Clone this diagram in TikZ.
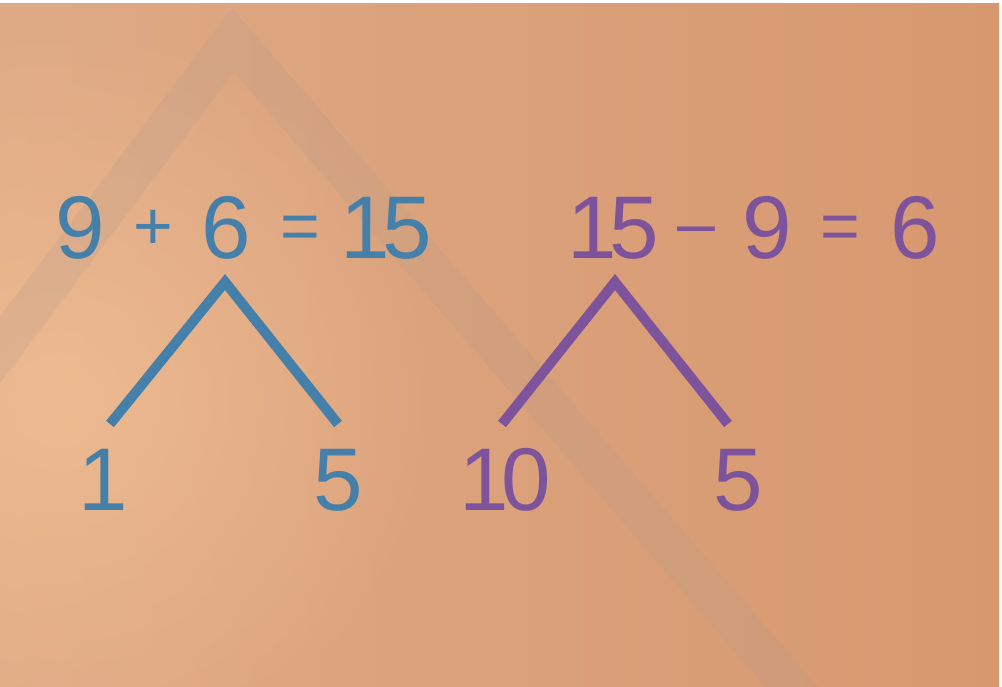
\documentclass[tikz,border=0pt]{standalone}
\usepackage{fontspec}
\setmainfont{Liberation Sans}
\usetikzlibrary{fadings}
\definecolor{numblue}{HTML}{4480AA}
\definecolor{numpurple}{HTML}{7D549B}
\definecolor{bgleft}{HTML}{DEAA86}
\definecolor{bgmid}{HTML}{EE9C74}
\definecolor{bgright}{HTML}{D7986F}
\definecolor{bgglow}{HTML}{EFBC92}
\definecolor{bandgrey}{HTML}{B49A8C}
\tikzfading[name=softglow, inner color=transparent!0, outer color=transparent!100]
\tikzset{
  num/.style={anchor=base, inner sep=0pt, font=\fontsize{44.5}{48}\selectfont},
  op/.style={anchor=base, inner sep=0pt, font=\fontsize{34}{36}\selectfont},
  branch/.style={line width=5pt, line join=miter}
}
\newcommand{\tight}{\kern-0.08em}

\begin{document}
\begin{tikzpicture}[x=0.5pt, y=-0.5pt]
\useasboundingbox (0,0) rectangle (1002,686);
% background
\fill[white] (0,0) rectangle (1002,686);
\begin{scope}
\clip (0,3) rectangle (999,686);
\shade[left color=bgleft, middle color=bgmid, right color=bgright] (0,3) rectangle (999,686);
\fill[bgglow, fill opacity=0.9, path fading=softglow] (60,400) circle (190pt);
\draw[bandgrey, opacity=0.22, line width=20pt, line join=miter] (-30,390) -- (233,40) -- (820,720);
\end{scope}

% 9 + 6 = 15
\node[num, numblue] (nine) at (80,258) {9};
\node[op, numblue] (plus) at (153,249) {+};
\node[num, numblue] (six) at (226,258) {6};
\node[op, numblue] (eqa) at (300,249) {=};
\node[num, numblue] (fifteen) at (386,258) {1\tight5};
% 15 - 9 = 6
\node[num, numpurple] (fifteenb) at (613,258) {1\tight5};
\node[op, numpurple] (minus) at (696,246) {--};
\node[num, numpurple] (nineb) at (767,258) {9};
\node[op, numpurple] (eqb) at (840,249) {=};
\node[num, numpurple] (sixb) at (915,258) {6};

% first tree
\coordinate (topa) at (225,282);
\coordinate (enda1) at (110,424);
\coordinate (enda2) at (338,424);
\draw[branch, numblue] (enda1) -- (topa) -- (enda2);
\node[num, numblue] (one) at (103,510) {1};
\node[num, numblue] (five) at (338,510) {5};

% second tree
\coordinate (topb) at (615,282);
\coordinate (endb1) at (502,424);
\coordinate (endb2) at (728,424);
\draw[branch, numpurple] (endb1) -- (topb) -- (endb2);
\node[num, numpurple] (ten) at (505,510) {1\tight0};
\node[num, numpurple] (fiveb) at (738,510) {5};
\end{tikzpicture}
\end{document}
